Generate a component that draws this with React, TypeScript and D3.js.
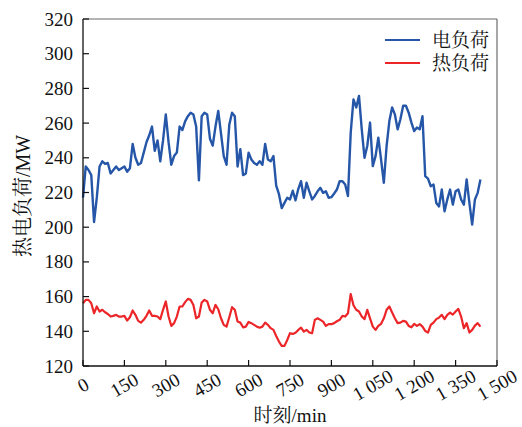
import { useMemo } from 'react'
import * as d3 from 'd3'

const W = 522
const H = 427
const M = { top: 19, right: 25, bottom: 61, left: 83 }

// sampled every 10 min, 0..1440
const STEP = 10

const ELEC = [
  217, 235, 233, 230, 203, 217, 235, 238, 236.5, 237,
  231, 233, 235, 233, 234, 235, 232, 234, 248, 240,
  236, 237, 243, 249, 253, 258, 244, 250, 238, 250,
  265, 249, 236, 241, 243, 258, 256, 261, 264, 266,
  265, 258, 227, 264, 266, 265, 251, 247, 258, 267,
  254, 241, 236, 259, 266, 264, 235, 245, 230, 231,
  243, 239, 237, 236, 238, 236, 248, 239, 238, 241,
  224, 219, 211, 214, 217, 216, 221, 215.5, 222, 226.5,
  217, 225.6, 220.7, 216, 218, 220.7, 222.7, 219.8, 220.7, 217,
  217.3, 219.4, 221.7, 226.5, 226.5, 224.6, 218, 254.5, 273.7, 269,
  275.7, 256.4, 240, 246.8, 260.3, 235.2, 241, 251.6, 239, 225.6,
  246.8, 261.2, 269, 265, 256.4, 262.2, 270, 270, 266, 260.3,
  255.4, 257.4, 256.4, 264, 229.4, 228, 223.6, 224.6, 214, 212,
  221.7, 209.2, 216, 221.7, 213, 220.7, 221.7, 216, 213, 227.5,
  214, 201.5, 216, 219.8, 227.5,
]

const HEAT = [
  156.2, 158.1, 158.1, 156.2, 150.4, 154.3, 151.4, 152.4, 151, 150,
  148.5, 148.9, 149.5, 148.5, 148.5, 148.9, 146.2, 148.1, 152, 149.5,
  146, 145, 146.6, 148.9, 152, 148.9, 148.9, 148.5, 147, 152.4,
  157.2, 148.5, 143.1, 144.7, 148.5, 154.3, 154.3, 156.8, 158.7, 158.1,
  155.2, 147.5, 148.5, 156.6, 158.1, 157.2, 152.4, 150.4, 155.2, 152.7,
  147.5, 143.7, 142.7, 148.1, 153.9, 152.4, 145.6, 145, 142.3, 142.7,
  145.4, 144.7, 143.7, 142.7, 142.1, 142.7, 145, 143.7, 141.8, 140.8,
  137.3, 134.1, 131.6, 131.6, 135, 138.9, 138.5, 139.2, 140.8, 142.1,
  139.8, 140.8, 139.3, 138.9, 146.6, 147.5, 146.6, 145.6, 143.1, 144.1,
  144.1, 144.7, 145.8, 146.6, 148.9, 148.5, 150.4, 161.5, 155, 152.4,
  151.4, 148.5, 147, 152.4, 147.5, 142.7, 140.8, 143.1, 144.3, 147.5,
  152.4, 154.3, 150.8, 147.5, 144.7, 145, 146, 145.6, 143.1, 142.3,
  144.3, 143.1, 144.1, 142.7, 140.2, 139.3, 143.7, 145, 147, 147.9,
  149.5, 147, 149.5, 150.8, 149.6, 151.4, 152.9, 148.5, 141.8, 144.7,
  139.3, 140.8, 143.3, 144.7, 142.7,
]

const SERIES = [
  { name: '电负荷', values: ELEC, color: '#2556a8', width: 2.4 },
  { name: '热负荷', values: HEAT, color: '#ec2529', width: 2.2 },
]

const X_TICKS = [0, 150, 300, 450, 600, 750, 900, 1050, 1200, 1350, 1500]
const Y_TICKS = [120, 140, 160, 180, 200, 220, 240, 260, 280, 300, 320]

const FONT = "'Liberation Serif', 'Times New Roman', 'Noto Serif CJK SC', 'Noto Sans CJK SC', serif"

// "1 050" style thousands spacing
const fmtX = (v: number) => (v >= 1000 ? `${Math.floor(v / 1000)} ${String(v % 1000).padStart(3, '0')}` : String(v))

export default function App() {
  const x = useMemo(() => d3.scaleLinear().domain([0, 1500]).range([M.left, W - M.right]), [])
  const y = useMemo(() => d3.scaleLinear().domain([120, 320]).range([H - M.bottom, M.top]), [])

  const line = d3.line<number>()
    .x((_, i) => x(i * STEP))
    .y(d => y(d))

  const x0 = M.left
  const x1 = W - M.right
  const y0 = H - M.bottom
  const y1 = M.top

  return (
    <svg width={W} height={H} style={{ position: 'absolute', left: 0, top: 0, background: '#fff' }} fontFamily={FONT}>
      {/* frame: top/right grey */}
      <line x1={x0} y1={y1} x2={x1} y2={y1} stroke="#6b6b6b" strokeWidth={1.2} />
      <line x1={x1} y1={y1} x2={x1} y2={y0} stroke="#6b6b6b" strokeWidth={1.2} />

      {/* series */}
      {SERIES.map(s => (
        <path key={s.name} d={line(s.values) || ''} fill="none" stroke={s.color} strokeWidth={s.width} strokeLinejoin="round" />
      ))}

      {/* left axis */}
      <line x1={x0} y1={y1} x2={x0} y2={y0} stroke="#111" strokeWidth={1.3} />
      {Y_TICKS.map(t => (
        <g key={t}>
          <line x1={x0} x2={x0 + 6} y1={y(t)} y2={y(t)} stroke="#111" strokeWidth={1.2} />
          <text x={x0 - 10} y={y(t)} textAnchor="end" dominantBaseline="central" fontSize={19} fill="#111">{t}</text>
        </g>
      ))}

      {/* bottom axis */}
      <line x1={x0} y1={y0} x2={x1} y2={y0} stroke="#111" strokeWidth={1.3} />
      {X_TICKS.map(t => (
        <g key={t}>
          <line x1={x(t)} x2={x(t)} y1={y0} y2={y0 - 6} stroke="#111" strokeWidth={1.2} />
          <text
            transform={`translate(${x(t)},${y0 + 19}) rotate(-30)`}
            textAnchor="middle"
            dominantBaseline="central"
            fontSize={19}
            fill="#111"
          >
            {fmtX(t)}
          </text>
        </g>
      ))}

      {/* axis titles */}
      <text x={(x0 + x1) / 2} y={H - 5} textAnchor="middle" fontSize={19} fill="#111">时刻/min</text>
      <text transform={`translate(23,196) rotate(-90)`} textAnchor="middle" dominantBaseline="central" fontSize={20} fill="#111">
        热电负荷/MW
      </text>

      {/* legend */}
      {SERIES.map((s, i) => (
        <g key={s.name} transform={`translate(385,${40 + i * 23})`}>
          <line x1={0} x2={35} y1={0} y2={0} stroke={s.color} strokeWidth={2} />
          <text x={47} y={0} dominantBaseline="central" fontSize={19} fill="#111">{s.name}</text>
        </g>
      ))}
    </svg>
  )
}
